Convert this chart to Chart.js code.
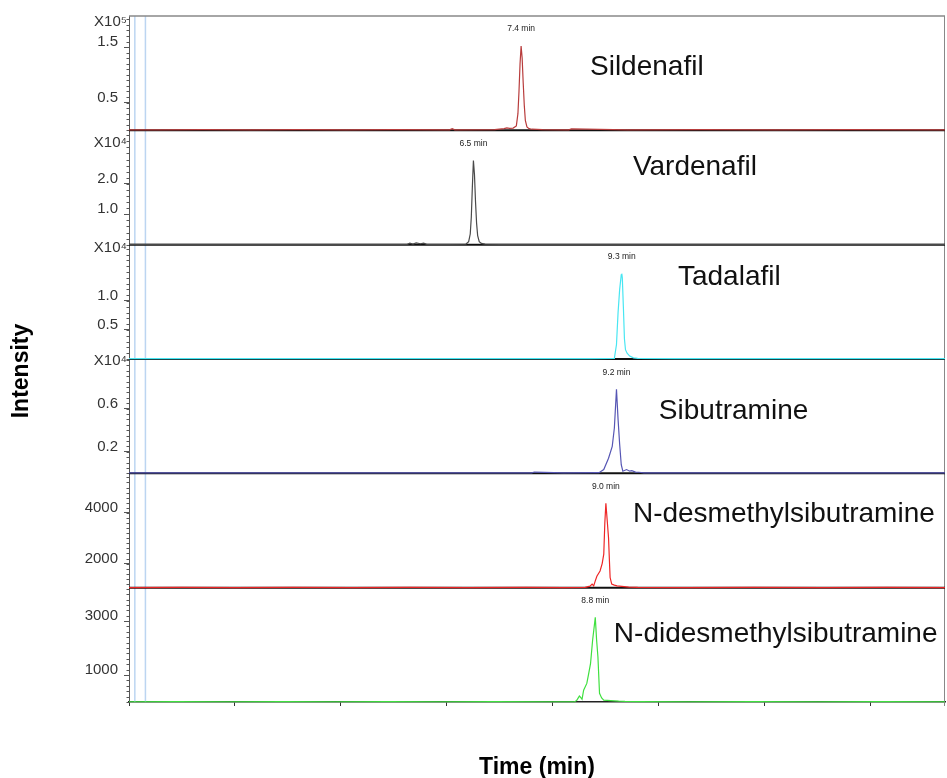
<!DOCTYPE html>
<html>
<head>
<meta charset="utf-8">
<title>Extracted ion chromatograms</title>
<script src="https://cdn.jsdelivr.net/npm/chart.js@4.4.1/dist/chart.umd.min.js"></script>
<style>
  html, body { margin: 0; padding: 0; background: #fff; }
  #chrom { display: block; }
</style>
</head>
<body>
<canvas id="chrom" width="947" height="778"></canvas>
<script>
const compounds = ["Sildenafil", "Vardenafil", "Tadalafil", "Sibutramine", "N-desmethylsibutramine", "N-didesmethylsibutramine"];
const retentionTimes = [7.4, 6.5, 9.3, 9.2, 9.0, 8.8];
const traceColors = ["#b83c3c", "#4a4a4a", "#48e6f2", "#5656b4", "#ee2626", "#3fe03f"];

// time (min) / intensity pairs for each trace
const timesSil = [0, 0.6, 1.4, 2.3, 3.2, 4.1, 5.0, 6.05, 6.1, 6.15, 6.9, 7.08, 7.13, 7.18, 7.25, 7.31, 7.34, 7.36, 7.38, 7.40, 7.42, 7.44, 7.46, 7.48, 7.51, 7.55, 7.6, 7.8, 8.3, 8.35, 9.4, 10.8, 12.2, 13.6, 15.4];
const intSil = [0.01, 0.01, 0.012, 0.01, 0.011, 0.01, 0.012, 0.01, 0.03, 0.01, 0.012, 0.03, 0.045, 0.035, 0.04, 0.08, 0.3, 0.7, 1.2, 1.52, 1.3, 0.85, 0.45, 0.18, 0.06, 0.03, 0.02, 0.012, 0.01, 0.025, 0.01, 0.012, 0.01, 0.011, 0.01];

const timesVar = [0, 0.8, 1.7, 2.6, 3.5, 4.4, 5.25, 5.3, 5.36, 5.42, 5.5, 5.56, 5.62, 6.0, 6.36, 6.41, 6.44, 6.46, 6.48, 6.50, 6.52, 6.54, 6.56, 6.58, 6.61, 6.65, 6.72, 7.0, 8.1, 9.5, 11.0, 12.4, 13.9, 15.4];
const intVar = [0.01, 0.012, 0.01, 0.011, 0.01, 0.012, 0.01, 0.05, 0.02, 0.06, 0.03, 0.05, 0.01, 0.012, 0.02, 0.1, 0.35, 0.9, 1.9, 2.77, 2.3, 1.4, 0.7, 0.3, 0.1, 0.04, 0.015, 0.01, 0.012, 0.01, 0.011, 0.01, 0.012, 0.01];

const timesTad = [0, 1.0, 2.1, 3.3, 4.5, 5.6, 6.8, 7.9, 8.7, 9.16, 9.2, 9.23, 9.26, 9.29, 9.30, 9.31, 9.33, 9.35, 9.37, 9.40, 9.45, 9.52, 9.6, 10.3, 11.5, 12.8, 14.1, 15.4];
const intTad = [0.005, 0.006, 0.005, 0.006, 0.005, 0.006, 0.005, 0.006, 0.005, 0.01, 0.25, 0.8, 1.2, 1.45, 1.47, 1.4, 0.9, 0.35, 0.16, 0.1, 0.05, 0.02, 0.01, 0.006, 0.005, 0.006, 0.005, 0.005];

const timesSib = [0, 1.1, 2.2, 3.4, 4.6, 5.8, 7.0, 7.6, 7.65, 8.2, 8.87, 8.96, 9.05, 9.12, 9.16, 9.2, 9.23, 9.26, 9.29, 9.32, 9.39, 9.45, 9.49, 9.56, 9.62, 9.72, 10.4, 11.6, 12.9, 14.2, 15.4];
const intSib = [0.004, 0.005, 0.004, 0.005, 0.004, 0.005, 0.004, 0.005, 0.012, 0.005, 0.006, 0.035, 0.14, 0.25, 0.42, 0.78, 0.5, 0.27, 0.08, 0.02, 0.035, 0.02, 0.025, 0.012, 0.01, 0.005, 0.004, 0.005, 0.004, 0.005, 0.004];

const timesDes = [0, 1.0, 2.0, 3.1, 4.2, 5.3, 6.4, 7.5, 8.2, 8.61, 8.7, 8.74, 8.77, 8.8, 8.83, 8.89, 8.93, 8.96, 8.98, 9.0, 9.025, 9.05, 9.065, 9.08, 9.11, 9.16, 9.21, 9.3, 9.43, 9.6, 10.5, 11.8, 13.1, 14.3, 15.4];
const intDes = [1055, 1060, 1055, 1058, 1055, 1060, 1055, 1058, 1055, 1060, 1110, 1190, 1120, 1320, 1500, 1710, 2000, 2370, 3600, 4380, 3700, 3020, 2200, 1450, 1190, 1150, 1120, 1100, 1070, 1060, 1055, 1058, 1055, 1058, 1055];

const timesDid = [0, 0.9, 1.9, 2.9, 3.9, 4.9, 5.9, 6.9, 7.9, 8.41, 8.45, 8.5, 8.52, 8.55, 8.58, 8.64, 8.67, 8.71, 8.75, 8.8, 8.825, 8.85, 8.88, 8.92, 8.96, 9.09, 9.24, 9.36, 9.6, 10.6, 11.8, 13.0, 14.2, 15.4];
const intDid = [10, 15, 10, 14, 10, 15, 10, 14, 10, 10, 60, 220, 180, 100, 440, 690, 1000, 1420, 2300, 3140, 2300, 1670, 320, 150, 70, 50, 30, 20, 12, 10, 14, 10, 14, 10];

const traces = [[timesSil, intSil], [timesVar, intVar], [timesTad, intTad], [timesSib, intSib], [timesDes, intDes], [timesDid, intDid]];

// per-panel intensity axes
const axisMin = [0, 0, 0, 0, 1050, 0];
const axisMax = [2.06, 3.76, 1.97, 1.06, 5560, 4240];
const majorTicks = [[0.5, 1.5], [1.0, 2.0], [0.5, 1.0], [0.2, 0.6], [2000, 4000], [1000, 3000]];
const tickDecimals = [1, 1, 1, 1, 0, 0];
const minorSteps = [0.1, 0.2, 0.1, 0.05, 200, 200];
const multipliers = ["X10\u2075", "X10\u2074", "X10\u2074", "X10\u2074", "", ""];
const markerTimes = [0.11, 0.31];

// where the text goes inside each panel: [time, px below panel top]
const multiplierDrop = [6, 13, 3, 2, 0, 0];
const namePlace = [[8.70, 51], [9.51, 37], [10.36, 33], [10.0, 52], [9.51, 41], [9.15, 47]];

const FONT = '"Liberation Sans", Arial, sans-serif';

const scales = {
  x: {
    type: "linear",
    min: 0,
    max: 15.4,
    afterFit: s => { s.height = 76; },
    ticks: { display: false, stepSize: 2, includeBounds: false },
    grid: { drawOnChartArea: false, tickLength: 4, color: "#333" },
    border: { color: "#222", width: 1.5 },
    title: { display: true, text: "Time (min)", color: "#000", font: { family: FONT, size: 23, weight: "bold" }, padding: { top: 0, bottom: -3 } }
  }
};

compounds.forEach((name, i) => {
  scales["y" + i] = {
    type: "linear",
    position: "left",
    stack: "panels",
    stackWeight: 1,
    weight: compounds.length - i,
    min: axisMin[i],
    max: axisMax[i],
    afterBuildTicks: s => { s.ticks = majorTicks[i].map(v => ({ value: v })); },
    afterFit: s => { s.width = 129; },
    ticks: {
      color: "#333",
      padding: 6,
      labelOffset: -5,
      font: { family: FONT, size: 15 },
      callback: v => Number(v).toFixed(tickDecimals[i])
    },
    grid: { drawOnChartArea: false, tickLength: 5, color: "#555" },
    border: { color: "#555", width: 1 }
  };
});

function line(ctx, x1, y1, x2, y2) {
  ctx.beginPath();
  ctx.moveTo(x1, y1);
  ctx.lineTo(x2, y2);
  ctx.stroke();
}

const panelDecor = {
  id: "panelDecor",
  beforeDatasetsDraw(chart) {
    const { ctx, chartArea: a, scales: sc } = chart;
    ctx.save();
    // light blue markers near the injection point
    ctx.strokeStyle = "#bcd5f1";
    ctx.lineWidth = 1.5;
    markerTimes.forEach(t => {
      const px = sc.x.getPixelForValue(t);
      line(ctx, px, a.top, px, a.bottom);
    });
    // outer frame
    ctx.strokeStyle = "#888";
    ctx.lineWidth = 1.5;
    line(ctx, a.left, a.top, a.right, a.top);
    ctx.lineWidth = 1;
    line(ctx, a.right - 0.5, a.top, a.right - 0.5, a.bottom + 4);
    // panel separators
    ctx.strokeStyle = "#111";
    ctx.lineWidth = 2;
    compounds.forEach((n, i) => {
      const s = sc["y" + i];
      if (s.bottom < a.bottom - 1) line(ctx, a.left, s.bottom, a.right, s.bottom);
    });
    ctx.restore();
  },
  afterDatasetsDraw(chart) {
    const { ctx, scales: sc } = chart;
    ctx.save();
    compounds.forEach((name, i) => {
      const s = sc["y" + i];
      // compound name
      ctx.fillStyle = "#111";
      ctx.font = "28px " + FONT;
      ctx.textAlign = "left";
      ctx.textBaseline = "middle";
      ctx.fillText(name, sc.x.getPixelForValue(namePlace[i][0]), s.top + namePlace[i][1]);
      // retention time above the apex
      const top = Math.max(...traces[i][1]);
      ctx.font = '8.5px "Liberation Sans Narrow", ' + FONT;
      ctx.fillStyle = "#222";
      ctx.textAlign = "center";
      ctx.fillText(retentionTimes[i].toFixed(1) + " min", sc.x.getPixelForValue(retentionTimes[i]), s.getPixelForValue(top) - 17);
    });
    ctx.restore();
  },
  afterDraw(chart) {
    const { ctx, scales: sc } = chart;
    ctx.save();
    ctx.strokeStyle = "#555";
    ctx.lineWidth = 1;
    compounds.forEach((n, i) => {
      const s = sc["y" + i];
      // minor ticks on the intensity axis
      const step = minorSteps[i];
      for (let k = Math.ceil(axisMin[i] / step); k * step <= axisMax[i] + 1e-9; k++) {
        const py = Math.round(s.getPixelForValue(k * step)) + 0.5;
        line(ctx, s.right - 2.5, py, s.right, py);
      }
      // scale multiplier
      if (multipliers[i]) {
        ctx.fillStyle = "#333";
        ctx.font = "15px " + FONT;
        ctx.textAlign = "right";
        ctx.textBaseline = "middle";
        ctx.fillText(multipliers[i], s.right - 2, s.top + multiplierDrop[i]);
      }
    });
    // shared intensity title
    ctx.translate(22, 371);
    ctx.rotate(-Math.PI / 2);
    ctx.fillStyle = "#000";
    ctx.font = "bold 23px " + FONT;
    ctx.textAlign = "center";
    ctx.textBaseline = "middle";
    ctx.fillText("Intensity", 0, 0);
    ctx.restore();
  }
};

new Chart(document.getElementById("chrom"), {
  type: "line",
  data: {
    datasets: traces.map(([t, v], i) => ({
      label: compounds[i],
      data: t.map((x, k) => ({ x: x, y: v[k] })),
      yAxisID: "y" + i,
      borderColor: traceColors[i],
      borderWidth: 1.2,
      pointRadius: 0,
      tension: 0,
      fill: false,
      clip: 3
    }))
  },
  options: {
    responsive: false,
    animation: false,
    devicePixelRatio: 1,
    layout: { padding: { top: 16, right: 2, bottom: 0, left: 0 } },
    scales: scales,
    plugins: {
      legend: { display: false },
      tooltip: { enabled: false }
    }
  },
  plugins: [panelDecor]
});
</script>
</body>
</html>
